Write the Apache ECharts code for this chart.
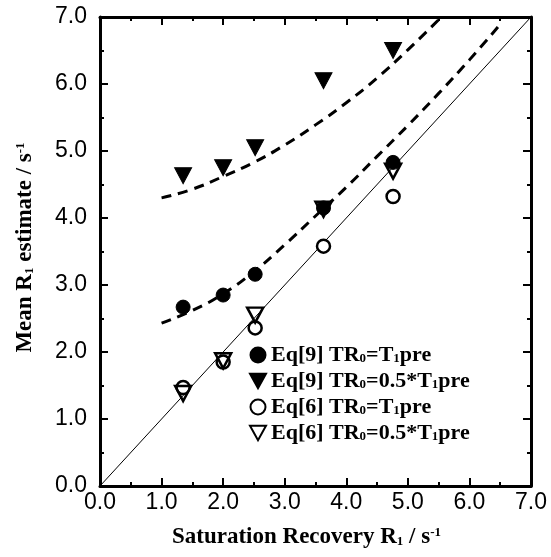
<!DOCTYPE html>
<html><head><meta charset="utf-8">
<script src="https://cdn.jsdelivr.net/npm/echarts@6/dist/echarts.min.js"></script>
<style>html,body{margin:0;padding:0;background:#fff}#c{width:551px;height:557px}</style>
</head><body><div id="c"></div>
<script>
// ---- data ----
const xVals   = [1.35, 2.0, 2.52, 3.63, 4.76];
const eq9Full = [2.67, 2.85, 3.16, 4.15, 4.83];   // filled circles
const eq9Half = [4.63, 4.75, 5.05, 6.05, 6.50];   // filled triangles
const eq6Full = [1.47, 1.85, 2.36, 3.58, 4.32];   // open circles
const eq6Half = [1.38, 1.87, 2.55, 4.13, 4.70];   // open triangles
const upperFitX = [1.0, 1.5, 2.0, 2.5, 3.0, 3.5, 4.0, 4.5, 5.0, 5.5];
const upperFitY = [4.30, 4.43, 4.62, 4.83, 5.09, 5.39, 5.72, 6.09, 6.51, 6.96];
const lowerFitX = [1.0, 1.5, 2.0, 2.5, 3.0, 3.5, 4.0, 4.5, 5.0, 5.5, 6.0, 6.5];
const lowerFitY = [2.43, 2.62, 2.87, 3.20, 3.60, 4.03, 4.46, 4.92, 5.38, 5.86, 6.36, 6.89];
const identityX = [0, 7];
const identityY = [0, 7];
const seriesNames = ['Eq[9] TR0=T1pre', 'Eq[9] TR0=0.5*T1pre', 'Eq[6] TR0=T1pre', 'Eq[6] TR0=0.5*T1pre'];
const seriesRich  = ['Eq[9] TR{s|0}=T{s|1}pre', 'Eq[9] TR{s|0}=0.5*T{s|1}pre', 'Eq[6] TR{s|0}=T{s|1}pre', 'Eq[6] TR{s|0}=0.5*T{s|1}pre'];
const axisMin = 0, axisMax = 7, axisStep = 1;

const zip = (xs, ys) => xs.map((x, i) => [x, ys[i]]);
const tri = 'path://M0,0L20,0L10,18Z';
const serif = '"Liberation Serif", "DejaVu Serif", serif';
const sans = '"Liberation Sans", Arial, sans-serif';

const richLabel = {
  s: {fontSize: 13, fontWeight: 'bold', fontFamily: serif, padding: [8, 0, 0, 0]},
  p: {fontSize: 13, fontWeight: 'bold', fontFamily: serif, padding: [0, 0, 10, 0]}
};
const richLegend = {
  s: {fontSize: 13, fontWeight: 'bold', fontFamily: serif, padding: [7, 0, 0, 0]}
};

const axisCommon = {
  type: 'value', min: axisMin, max: axisMax, interval: axisStep,
  axisLine: {show: true, onZero: false, lineStyle: {color: '#000', width: 3}},
  axisTick: {show: true, inside: true, length: 8, lineStyle: {color: '#000', width: 2}},
  minorTick: {show: true, splitNumber: 2, length: 4, lineStyle: {color: '#000', width: 2}},
  splitLine: {show: false},
  minorSplitLine: {show: false}
};
const labelStyle = {color: '#000', fontSize: 23, fontFamily: sans, formatter: v => v.toFixed(1)};

const chart = echarts.init(document.getElementById('c'));
chart.setOption({
  animation: false,
  backgroundColor: '#fff',
  grid: {left: 100, right: 20, top: 17, bottom: 71},
  xAxis: [
    Object.assign({}, axisCommon, {
      position: 'bottom',
      axisLabel: Object.assign({}, labelStyle, {margin: 5}),
      name: 'Saturation Recovery R{s|1} / s{p|-1}',
      nameLocation: 'middle', nameGap: 40,
      nameTextStyle: {color: '#000', fontSize: 23, fontWeight: 'bold', fontFamily: serif, rich: richLabel, padding: [0, 18, 0, 0]}
    }),
    Object.assign({}, axisCommon, {position: 'top', axisLabel: {show: false}})
  ],
  yAxis: [
    Object.assign({}, axisCommon, {
      position: 'left',
      axisLabel: Object.assign({}, labelStyle, {margin: 13}),
      name: 'Mean R{s|1} estimate / s{p|-1}',
      nameLocation: 'middle', nameGap: 63,
      nameTextStyle: {color: '#000', fontSize: 23, fontWeight: 'bold', fontFamily: serif, rich: richLabel, padding: [0, 0, 0, 8]}
    }),
    Object.assign({}, axisCommon, {position: 'right', axisLabel: {show: false}})
  ],
  legend: {
    orient: 'vertical', left: 244, top: 339, itemGap: 4, itemWidth: 16, itemHeight: 15,
    data: seriesNames,
    formatter: name => seriesRich[seriesNames.indexOf(name)],
    textStyle: {color: '#000', fontSize: 22, fontWeight: 'bold', fontFamily: serif, lineHeight: 18, rich: richLegend}
  },
  series: [
    {type: 'line', data: zip(identityX, identityY), showSymbol: false, symbol: 'none',
     lineStyle: {color: '#000', width: 1}, silent: true, z: 1},
    {type: 'line', data: zip(upperFitX, upperFitY), smooth: true, symbol: 'none',
     lineStyle: {color: '#000', width: 3, type: [10, 7]}, z: 1},
    {type: 'line', data: zip(lowerFitX, lowerFitY), smooth: true, symbol: 'none',
     lineStyle: {color: '#000', width: 3, type: [10, 7]}, z: 1},
    {name: seriesNames[0], type: 'scatter', data: zip(xVals, eq9Full), symbol: 'circle', symbolSize: 14,
     itemStyle: {color: '#000', borderColor: '#000', borderWidth: 1, opacity: 1}, z: 3},
    {name: seriesNames[1], type: 'scatter', data: zip(xVals, eq9Half), symbol: tri, symbolSize: [17, 16],
     itemStyle: {color: '#000', borderColor: '#000', borderWidth: 1, opacity: 1}, z: 3},
    {name: seriesNames[2], type: 'scatter', data: zip(xVals, eq6Full), symbol: 'circle', symbolSize: 13,
     itemStyle: {color: '#fff', borderColor: '#000', borderWidth: 2.5, opacity: 1}, z: 4},
    {name: seriesNames[3], type: 'scatter', data: zip(xVals, eq6Half), symbol: tri, symbolSize: [16, 15],
     itemStyle: {color: 'rgba(255,255,255,0)', borderColor: '#000', borderWidth: 2.5, opacity: 1}, z: 5}
  ]
});
</script>
</body></html>
